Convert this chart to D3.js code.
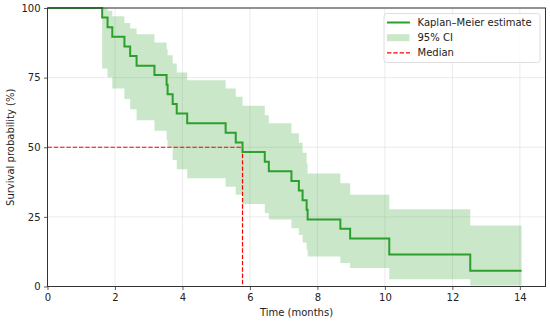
<!DOCTYPE html>
<html>
<head>
<meta charset="utf-8">
<script src="https://cdn.jsdelivr.net/npm/d3@7"></script>
<style>
  body { margin: 0; background: #fff; }
  svg { display: block; font-family: "DejaVu Sans", sans-serif; }
  .tick text { font-size: 10px; fill: #222; }
</style>
</head>
<body>
<svg id="chart"></svg>
<script>
// Kaplan-Meier curve
const times = [0, 1.62, 1.78, 1.92, 2.28, 2.45, 2.64, 3.17, 3.53, 3.56, 3.71, 3.83, 4.14,
  5.28, 5.58, 5.78, 6.44, 6.56, 7.23, 7.45, 7.56, 7.68, 7.71, 8.68, 8.97, 10.13, 12.53];
const survival = [100, 96.6, 93.1, 89.7, 86.2, 82.8, 79.3, 75.9, 72.4, 69.0, 65.5, 62.1, 58.6,
  55.2, 51.7, 48.3, 44.8, 41.4, 37.9, 34.5, 31.0, 27.6, 24.1, 20.7, 17.2, 11.5, 5.7];
const ciLower = [100, 78.3, 75.1, 71.1, 67.3, 63.6, 59.7, 55.9, 52.6, 50.2, 45.4, 42.1, 38.9,
  35.8, 32.9, 29.6, 26.4, 24.1, 20.9, 18.5, 15.8, 13.2, 10.8, 8.4, 6.6, 2.6, 0.4];
const ciUpper = [100, 100, 99.0, 97.0, 94.6, 92.6, 90.6, 87.6, 85.3, 83.0, 80.1, 76.8, 74.1,
  71.1, 68.1, 64.9, 61.5, 58.6, 55.0, 51.6, 48.0, 44.2, 40.6, 37.1, 32.9, 27.7, 21.9];
const endTime = 14.05;
const medianTime = 5.78;
const xTicks = [0, 2, 4, 6, 8, 10, 12, 14];
const yTicks = [0, 25, 50, 75, 100];
const legendLabels = ["Kaplan\u2013Meier estimate", "95% CI", "Median"];

const width = 550,
  height = 322;
const margin = { top: 8, right: 4.5, bottom: 35.5, left: 47.5 };
const green = "#2ca02c";

const svg = d3.select("#chart").attr("width", width).attr("height", height);

const x = d3
  .scaleLinear()
  .domain([0, 14.76])
  .range([margin.left, width - margin.right]);

const y = d3
  .scaleLinear()
  .domain([0, 100])
  .range([height - margin.bottom, margin.top]);

// step data, last value held to the end of follow-up
const rows = times.map(function(t, i) {
  return { t: t, s: survival[i], lo: ciLower[i], hi: ciUpper[i] };
});
rows.push(Object.assign({}, rows[rows.length - 1], { t: endTime }));

// grid
svg
  .append("g")
  .selectAll("line")
  .data(xTicks)
  .enter()
  .append("line")
  .attr("x1", x)
  .attr("x2", x)
  .attr("y1", y(0))
  .attr("y2", y(100))
  .attr("stroke", "#e6e6e6")
  .attr("stroke-width", 0.8);

svg
  .append("g")
  .selectAll("line")
  .data(yTicks)
  .enter()
  .append("line")
  .attr("x1", x.range()[0])
  .attr("x2", x.range()[1])
  .attr("y1", y)
  .attr("y2", y)
  .attr("stroke", "#e6e6e6")
  .attr("stroke-width", 0.8);

// confidence band
const band = d3
  .area()
  .curve(d3.curveStepAfter)
  .x(function(d) {
    return x(d.t);
  })
  .y0(function(d) {
    return y(d.lo);
  })
  .y1(function(d) {
    return y(d.hi);
  });

svg
  .append("path")
  .datum(rows)
  .attr("d", band)
  .attr("fill", green)
  .attr("fill-opacity", 0.25);

// median guide
svg
  .append("path")
  .attr(
    "d",
    d3.line()([
      [x(0), y(50)],
      [x(medianTime), y(50)],
      [x(medianTime), y(0)]
    ])
  )
  .attr("fill", "none")
  .attr("stroke", "#ff0000")
  .attr("stroke-width", 1.2)
  .attr("stroke-dasharray", "4.4,1.9");

// KM curve
const km = d3
  .line()
  .curve(d3.curveStepAfter)
  .x(function(d) {
    return x(d.t);
  })
  .y(function(d) {
    return y(d.s);
  });

svg
  .append("path")
  .datum(rows)
  .attr("d", km)
  .attr("fill", "none")
  .attr("stroke", green)
  .attr("stroke-width", 2);

// axes
const xAxis = svg
  .append("g")
  .attr("transform", "translate(0," + y(0) + ")")
  .call(
    d3
      .axisBottom(x)
      .tickValues(xTicks)
      .tickSize(3.5)
      .tickPadding(3.5)
      .tickSizeOuter(0)
  );

const yAxis = svg
  .append("g")
  .attr("transform", "translate(" + x(0) + ",0)")
  .call(
    d3
      .axisLeft(y)
      .tickValues(yTicks)
      .tickSize(3.5)
      .tickPadding(3.5)
      .tickSizeOuter(0)
  );

[xAxis, yAxis].forEach(function(a) {
  a.select(".domain").remove();
  a.selectAll(".tick line").attr("stroke", "#333").attr("stroke-width", 0.8);
  a.attr("font-family", null);
});

// frame
svg
  .append("rect")
  .attr("x", x.range()[0])
  .attr("y", y(100))
  .attr("width", x.range()[1] - x.range()[0])
  .attr("height", y(0) - y(100))
  .attr("fill", "none")
  .attr("stroke", "#333")
  .attr("stroke-width", 1);

// axis titles
svg
  .append("text")
  .attr("x", (x.range()[0] + x.range()[1]) / 2)
  .attr("y", 316)
  .attr("text-anchor", "middle")
  .attr("font-size", 10)
  .attr("fill", "#222")
  .text("Time (months)");

svg
  .append("text")
  .attr("transform", "translate(14," + (y(0) + y(100)) / 2 + ") rotate(-90)")
  .attr("text-anchor", "middle")
  .attr("font-size", 10)
  .attr("fill", "#222")
  .text("Survival probability (%)");

// legend
const legend = svg.append("g").attr("transform", "translate(384,13.5)");

legend
  .append("rect")
  .attr("width", 156)
  .attr("height", 49)
  .attr("rx", 2.5)
  .attr("fill", "#fff")
  .attr("fill-opacity", 0.8)
  .attr("stroke", "#d6d6d6")
  .attr("stroke-width", 0.8);

const item = legend
  .selectAll("g.item")
  .data(legendLabels)
  .enter()
  .append("g")
  .attr("class", "item")
  .attr("transform", function(d, i) {
    return "translate(0," + (9 + i * 15.2) + ")";
  });

item
  .append("text")
  .attr("x", 33.5)
  .attr("dy", "0.35em")
  .attr("font-size", 10)
  .attr("fill", "#222")
  .text(function(d) {
    return d;
  });

item
  .filter(function(d, i) {
    return i === 0;
  })
  .append("line")
  .attr("x1", 3)
  .attr("x2", 26)
  .attr("stroke", green)
  .attr("stroke-width", 2);

item
  .filter(function(d, i) {
    return i === 1;
  })
  .append("rect")
  .attr("x", 3)
  .attr("y", -3.5)
  .attr("width", 22.5)
  .attr("height", 7)
  .attr("fill", green)
  .attr("fill-opacity", 0.25);

item
  .filter(function(d, i) {
    return i === 2;
  })
  .append("line")
  .attr("x1", 3)
  .attr("x2", 26)
  .attr("stroke", "#ff0000")
  .attr("stroke-width", 1.2)
  .attr("stroke-dasharray", "4.4,1.9");
</script>
</body>
</html>
